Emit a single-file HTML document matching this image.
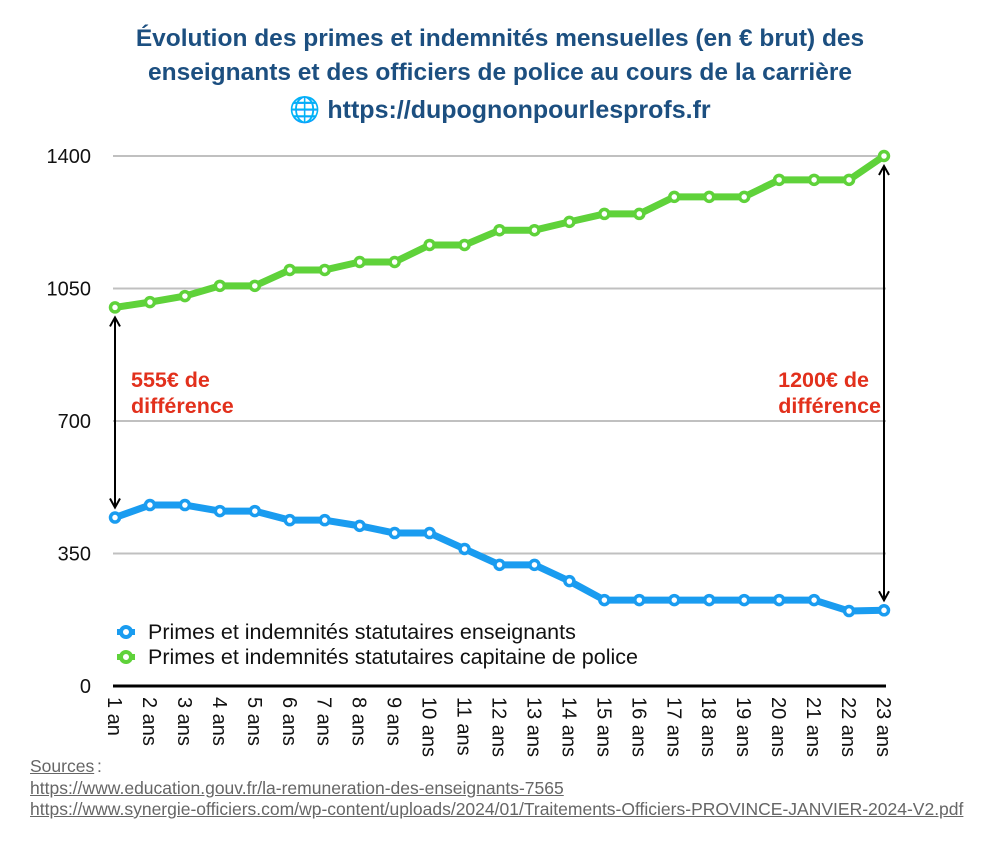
<!DOCTYPE html>
<html><head><meta charset="utf-8"><style>
body{margin:0;background:#fff;width:1000px;height:854px;overflow:hidden;font-family:"Liberation Sans",sans-serif}
.t{position:absolute;left:0;width:1000px;text-align:center;color:#1c4f80;font-weight:bold;font-size:24.5px}
.src{position:absolute;left:30px;color:#666;font-size:17.5px;text-decoration:underline}
</style></head><body>
<div class="t" style="top:25px">Évolution des primes et indemnités mensuelles (en € brut) des</div>
<div class="t" style="top:59px">enseignants et des officiers de police au cours de la carrière</div>
<div class="t" style="top:96px;font-size:25px">🌐 https://dupognonpourlesprofs.fr</div>
<svg id="c" width="1000" height="854" style="position:absolute;left:0;top:0"></svg>
<div class="src" style="top:756px">Sources</div><div class="src" style="top:756px;left:97px;text-decoration:none">:</div>
<div class="src" style="top:778px">https://www.education.gouv.fr/la-remuneration-des-enseignants-7565</div>
<div class="src" style="top:799px">https://www.synergie-officiers.com/wp-content/uploads/2024/01/Traitements-Officiers-PROVINCE-JANVIER-2024-V2.pdf</div>
<script>
const categories=["1 an","2 ans","3 ans","4 ans","5 ans","6 ans","7 ans","8 ans","9 ans","10 ans","11 ans","12 ans","13 ans","14 ans","15 ans","16 ans","17 ans","18 ans","19 ans","20 ans","21 ans","22 ans","23 ans"];
const teachers=[445,478,478,462,462,438,438,423,404,404,362,320,320,277,227,227,227,227,227,227,227,198,200];
const police=[1000,1014,1030,1057,1057,1099,1099,1120,1120,1165,1165,1204,1204,1226,1247,1247,1292,1292,1292,1337,1337,1337,1400];
const yTicks=[0,350,700,1050,1400];
const NS="http://www.w3.org/2000/svg",svg=document.getElementById('c');
const x=i=>115+i*(769/22), y=v=>686-v*(530/1400);
function mk(t,a,p){const e=document.createElementNS(NS,t);for(const k in a)e.setAttribute(k,a[k]);(p||svg).appendChild(e);return e;}
yTicks.forEach(v=>{
 const l=mk('line',{x1:113,x2:886,y1:y(v),y2:y(v),stroke:v?'#c0c0c0':'#000','stroke-width':v?2:3});
 
 
 const t=mk('text',{x:91,y:y(v)+7,'text-anchor':'end','font-size':20,fill:'#111'});t.textContent=v;
 
 
});
categories.forEach((c,i)=>{
 const t=mk('text',{transform:`translate(${x(i)-7},697) rotate(90)`,'font-size':20,fill:'#111'});t.textContent=c;
 
 
});
function series(d,col,name){
 const p=mk('polyline',{points:d.map((v,i)=>x(i)+','+y(v)).join(' '),fill:'none',stroke:col,'stroke-width':7,'stroke-linejoin':'round'});
 
 
 d.forEach((v,i)=>{const c=mk('circle',{cx:x(i),cy:y(v),r:4.5,fill:'#fff',stroke:col,'stroke-width':3.5});
 
 });
}
series(police,'#5fd23a','police');
series(teachers,'#1a9cf0','teachers');
mk('defs',{}).innerHTML='<marker id="ah" markerWidth="12" markerHeight="12" refX="10" refY="6" orient="auto-start-reverse" markerUnits="userSpaceOnUse"><path d="M1 1 L10 6 L1 11" fill="none" stroke="#000" stroke-width="2"/></marker>';
function arrow(i,a,b,name){const l=mk('line',{x1:x(i),x2:x(i),y1:y(a)+10,y2:y(b)-10,stroke:'#000','stroke-width':2,'marker-start':'url(#ah)','marker-end':'url(#ah)'});
 
 }
arrow(0,police[0],teachers[0],'gap-arrow-start');
arrow(22,police[22],teachers[22],'gap-arrow-end');
function lab(tx,yy,anch,s,name){const t=mk('text',{x:tx,y:yy,'text-anchor':anch,'font-size':21.5,'font-weight':'bold',fill:'#e2301c'});t.textContent=s;
 
 }
lab(131,387,'start','555€ de','gap-label-start');lab(131,413,'start','différence','gap-label-start-2');
lab(869,387,'end','1200€ de','gap-label-end');lab(881,413,'end','différence','gap-label-end-2');
[['#1a9cf0','Primes et indemnités statutaires enseignants',632],['#5fd23a','Primes et indemnités statutaires capitaine de police',657]].forEach(([c,s,yy])=>{
 const g=mk('g',{});
 
 
 mk('line',{x1:117,x2:135,y1:yy,y2:yy,stroke:c,'stroke-width':6},g);
 mk('circle',{cx:126,cy:yy,r:5,fill:'#fff',stroke:c,'stroke-width':4},g);
 const t=mk('text',{x:148,y:yy+7,'font-size':21.5,fill:'#111'},g);t.textContent=s;
});
</script>
</body></html>
